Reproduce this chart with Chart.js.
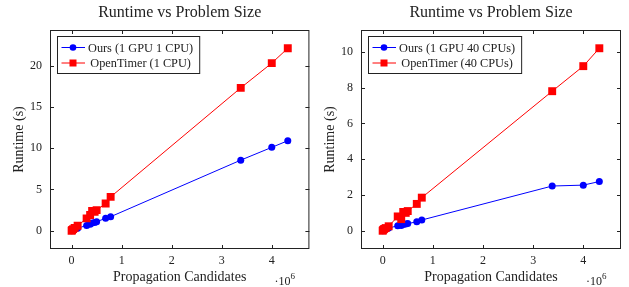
<!DOCTYPE html>
<html>
<head>
<meta charset="utf-8">
<script src="https://cdn.jsdelivr.net/npm/chart.js@4/dist/chart.umd.min.js"></script>
<style>
  html, body { margin: 0; padding: 0; background: #fff; }
  .wrap { display: flex; width: 629px; height: 287px; }
  canvas { display: block; }
</style>
</head>
<body>
<div class="wrap">
  <canvas id="left" width="315" height="287"></canvas>
  <canvas id="right" width="314" height="287"></canvas>
</div>
<script>
// Propagation candidates (x 10^6), shared by both panels
const candidates = [0, 0.01, 0.03, 0.06, 0.12, 0.3, 0.37, 0.41, 0.46, 0.5, 0.68, 0.78, 3.38, 4.0, 4.32];

// Runtime (s), left panel
const ours1Cpu = [0, 0.05, 0.1, 0.2, 0.3, 0.65, 0.8, 0.95, 1.0, 1.1, 1.5, 1.7, 8.55, 10.1, 10.9];
const openTimer1Cpu = [0, 0.1, 0.2, 0.35, 0.6, 1.5, 1.9, 2.4, 2.3, 2.5, 3.3, 4.1, 17.3, 20.3, 22.1];

// Runtime (s), right panel
const ours40Cpu = [0, 0.05, 0.1, 0.12, 0.15, 0.28, 0.3, 0.35, 0.38, 0.4, 0.5, 0.6, 2.5, 2.55, 2.75];
const openTimer40Cpu = [0, 0.05, 0.1, 0.15, 0.25, 0.8, 0.65, 1.05, 1.0, 1.1, 1.5, 1.85, 7.8, 9.2, 10.2];

const xTicks = [0, 1, 2, 3, 4];
const yTicksLeft = [0, 5, 10, 15, 20];
const yTicksRight = [0, 2, 4, 6, 8, 10];

const titleText = 'Runtime vs Problem Size';
const xTitle = 'Propagation Candidates';
const yTitle = 'Runtime (s)';
const legendLeft = ['Ours (1 GPU 1 CPU)', 'OpenTimer (1 CPU)'];
const legendRight = ['Ours (1 GPU 40 CPUs)', 'OpenTimer (40 CPUs)'];

const FONT = "'Liberation Serif', 'DejaVu Serif', serif";
const INK = '#222';
const BLUE = '#0000ff';
const RED = '#ff0000';

const toPoints = (ys) => ys.map((y, i) => ({ x: candidates[i], y }));

// pgfplots-like frame: title, box round the plot, inward ticks, legend, scale note
const framePlugin = {
  id: 'frame',
  afterDatasetsDraw(chart) {
    const { ctx, chartArea: a, scales } = chart;
    ctx.save();

    // title, centred on the plot area
    ctx.fillStyle = INK;
    ctx.font = '16px ' + FONT;
    ctx.textAlign = 'center';
    ctx.textBaseline = 'middle';
    ctx.fillText(titleText, (a.left + a.right) / 2, 13);

    ctx.strokeStyle = INK;
    ctx.lineWidth = 1;
    ctx.strokeRect(a.left + 0.5, a.top + 0.5, a.right - a.left - 1, a.bottom - a.top - 1);
    ctx.beginPath();
    scales.x.ticks.forEach((t) => {
      const px = Math.round(scales.x.getPixelForValue(t.value)) + 0.5;
      ctx.moveTo(px, a.bottom); ctx.lineTo(px, a.bottom - 4);
      ctx.moveTo(px, a.top); ctx.lineTo(px, a.top + 4);
    });
    scales.y.ticks.forEach((t) => {
      const py = Math.round(scales.y.getPixelForValue(t.value)) + 0.5;
      ctx.moveTo(a.left, py); ctx.lineTo(a.left + 4, py);
      ctx.moveTo(a.right, py); ctx.lineTo(a.right - 4, py);
    });
    ctx.stroke();

    // legend box (cells centred, like pgfplots)
    const labels = chart.options.plugins.frame.labels;
    ctx.font = '12.3px ' + FONT;
    const tw = Math.max(...labels.map((l) => ctx.measureText(l).width));
    const lx = Math.round(a.left + 7), ly = Math.round(a.top + 6);
    const lw = 31 + tw + 6, lh = 37;
    ctx.fillStyle = '#fff';
    ctx.fillRect(lx, ly, lw, lh);
    ctx.strokeRect(lx + 0.5, ly + 0.5, lw, lh);
    chart.data.datasets.forEach((ds, i) => {
      const cy = ly + 11.5 + i * 15.5;
      ctx.strokeStyle = ds.borderColor;
      ctx.beginPath();
      ctx.moveTo(lx + 4.5, cy); ctx.lineTo(lx + 28, cy);
      ctx.stroke();
      ctx.fillStyle = ds.backgroundColor;
      if (ds.pointStyle === 'rect') {
        ctx.fillRect(lx + 12.5, cy - 3.5, 7, 7);
      } else {
        ctx.beginPath();
        ctx.arc(lx + 16, cy, 3.3, 0, Math.PI * 2);
        ctx.fill();
      }
      ctx.fillStyle = INK;
      ctx.fillText(labels[i], lx + 31 + tw / 2, cy + 1);
    });

    // ·10^6 multiplier under the right end of the x axis
    ctx.strokeStyle = INK;
    ctx.textAlign = 'left';
    ctx.textBaseline = 'alphabetic';
    ctx.font = '12px ' + FONT;
    const mx = a.right - 35;
    ctx.fillText('\u00b710', mx, 285);
    const w = ctx.measureText('\u00b710').width;
    ctx.font = '9px ' + FONT;
    ctx.fillText('6', mx + w, 279);
    ctx.restore();
  },
};

function makeChart(id, opts) {
  return new Chart(document.getElementById(id), {
    type: 'line',
    data: {
      datasets: [
        {
          label: opts.labels[0],
          data: toPoints(opts.ours),
          borderColor: BLUE,
          backgroundColor: BLUE,
          borderWidth: 1,
          pointStyle: 'circle',
          pointRadius: 3.5,
          pointBorderWidth: 0,
          order: 1,
        },
        {
          label: opts.labels[1],
          data: toPoints(opts.openTimer),
          borderColor: RED,
          backgroundColor: RED,
          borderWidth: 1,
          pointStyle: 'rect',
          pointRadius: 5.6,
          pointBorderWidth: 0,
          order: 0,
        },
      ],
    },
    options: {
      responsive: false,
      animation: false,
      layout: { padding: { left: 0, right: opts.padRight, top: 30, bottom: 0 } },
      plugins: {
        legend: { display: false },
        tooltip: { enabled: false },
        title: { display: false },
        frame: { labels: opts.labels },
      },
      scales: {
        x: {
          type: 'linear',
          min: -0.432,
          max: 4.752,
          afterBuildTicks: (s) => { s.ticks = xTicks.map((v) => ({ value: v })); },
          afterFit: (s) => { s.height = 38; },
          grid: { display: false, drawTicks: false },
          border: { display: false },
          ticks: {
            color: INK,
            padding: 5,
            font: { family: FONT, size: 12 },
            callback: (v) => String(v),
          },
          title: {
            display: true,
            text: xTitle,
            color: INK,
            font: { family: FONT, size: 14 },
            padding: { top: 0, bottom: 1 },
          },
        },
        y: {
          type: 'linear',
          min: opts.yMin,
          max: opts.yMax,
          afterBuildTicks: (s) => { s.ticks = opts.yTicks.map((v) => ({ value: v })); },
          afterFit: (s) => { s.width = opts.yWidth; },
          grid: { display: false, drawTicks: false },
          border: { display: false },
          ticks: {
            color: INK,
            padding: 8,
            font: { family: FONT, size: 12 },
          },
          title: {
            display: true,
            text: yTitle,
            color: INK,
            font: { family: FONT, size: 14 },
            padding: { top: opts.yTitlePad, bottom: 0 },
          },
        },
      },
    },
    plugins: [framePlugin],
  });
}

makeChart('left', {
  labels: legendLeft,
  ours: ours1Cpu,
  openTimer: openTimer1Cpu,
  yTicks: yTicksLeft,
  yMin: -2.21,
  yMax: 24.31,
  yWidth: 50,
  yTitlePad: 11,
  padRight: 2,
});

makeChart('right', {
  labels: legendRight,
  ours: ours40Cpu,
  openTimer: openTimer40Cpu,
  yTicks: yTicksRight,
  yMin: -1.02,
  yMax: 11.22,
  yWidth: 46,
  yTitlePad: 7,
  padRight: 8,
});
</script>
</body>
</html>
